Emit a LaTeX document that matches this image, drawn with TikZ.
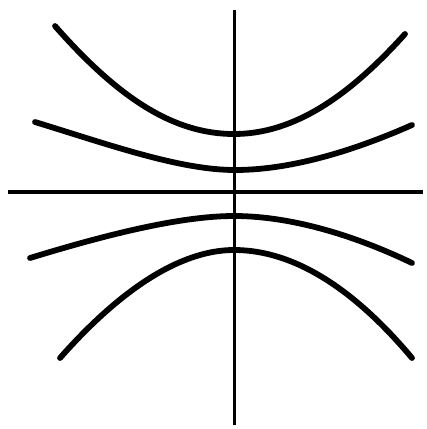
\documentclass[tikz,border=0pt]{standalone}
\usepackage{tikz}

\begin{document}
\begin{tikzpicture}[
  x=1pt,y=-1pt,
  axis/.style={draw=black,line width=3pt},
  branch/.style={draw=black,line width=5.8pt,line cap=round},
]
\useasboundingbox (0,0) rectangle (427,429);
% axes
\draw[axis] (234,10) -- (234,425);
\draw[axis,line width=4.6pt] (8,192) -- (423,192);
% upper branches
\draw[branch] (55,26) .. controls (120,100) and (175,134) .. (234,134)
  .. controls (295,134) and (350,95) .. (405,34);
\draw[branch] (35,122) .. controls (110,145) and (180,170) .. (235,170)
  .. controls (295,170) and (360,148) .. (412,125);
% lower branches
\draw[branch] (30,258) .. controls (105,235) and (180,216) .. (234,216)
  .. controls (295,216) and (360,238) .. (412,263);
\draw[branch] (60,358) .. controls (120,290) and (180,250) .. (234,250)
  .. controls (295,250) and (355,290) .. (412,358);
\end{tikzpicture}
\end{document}
